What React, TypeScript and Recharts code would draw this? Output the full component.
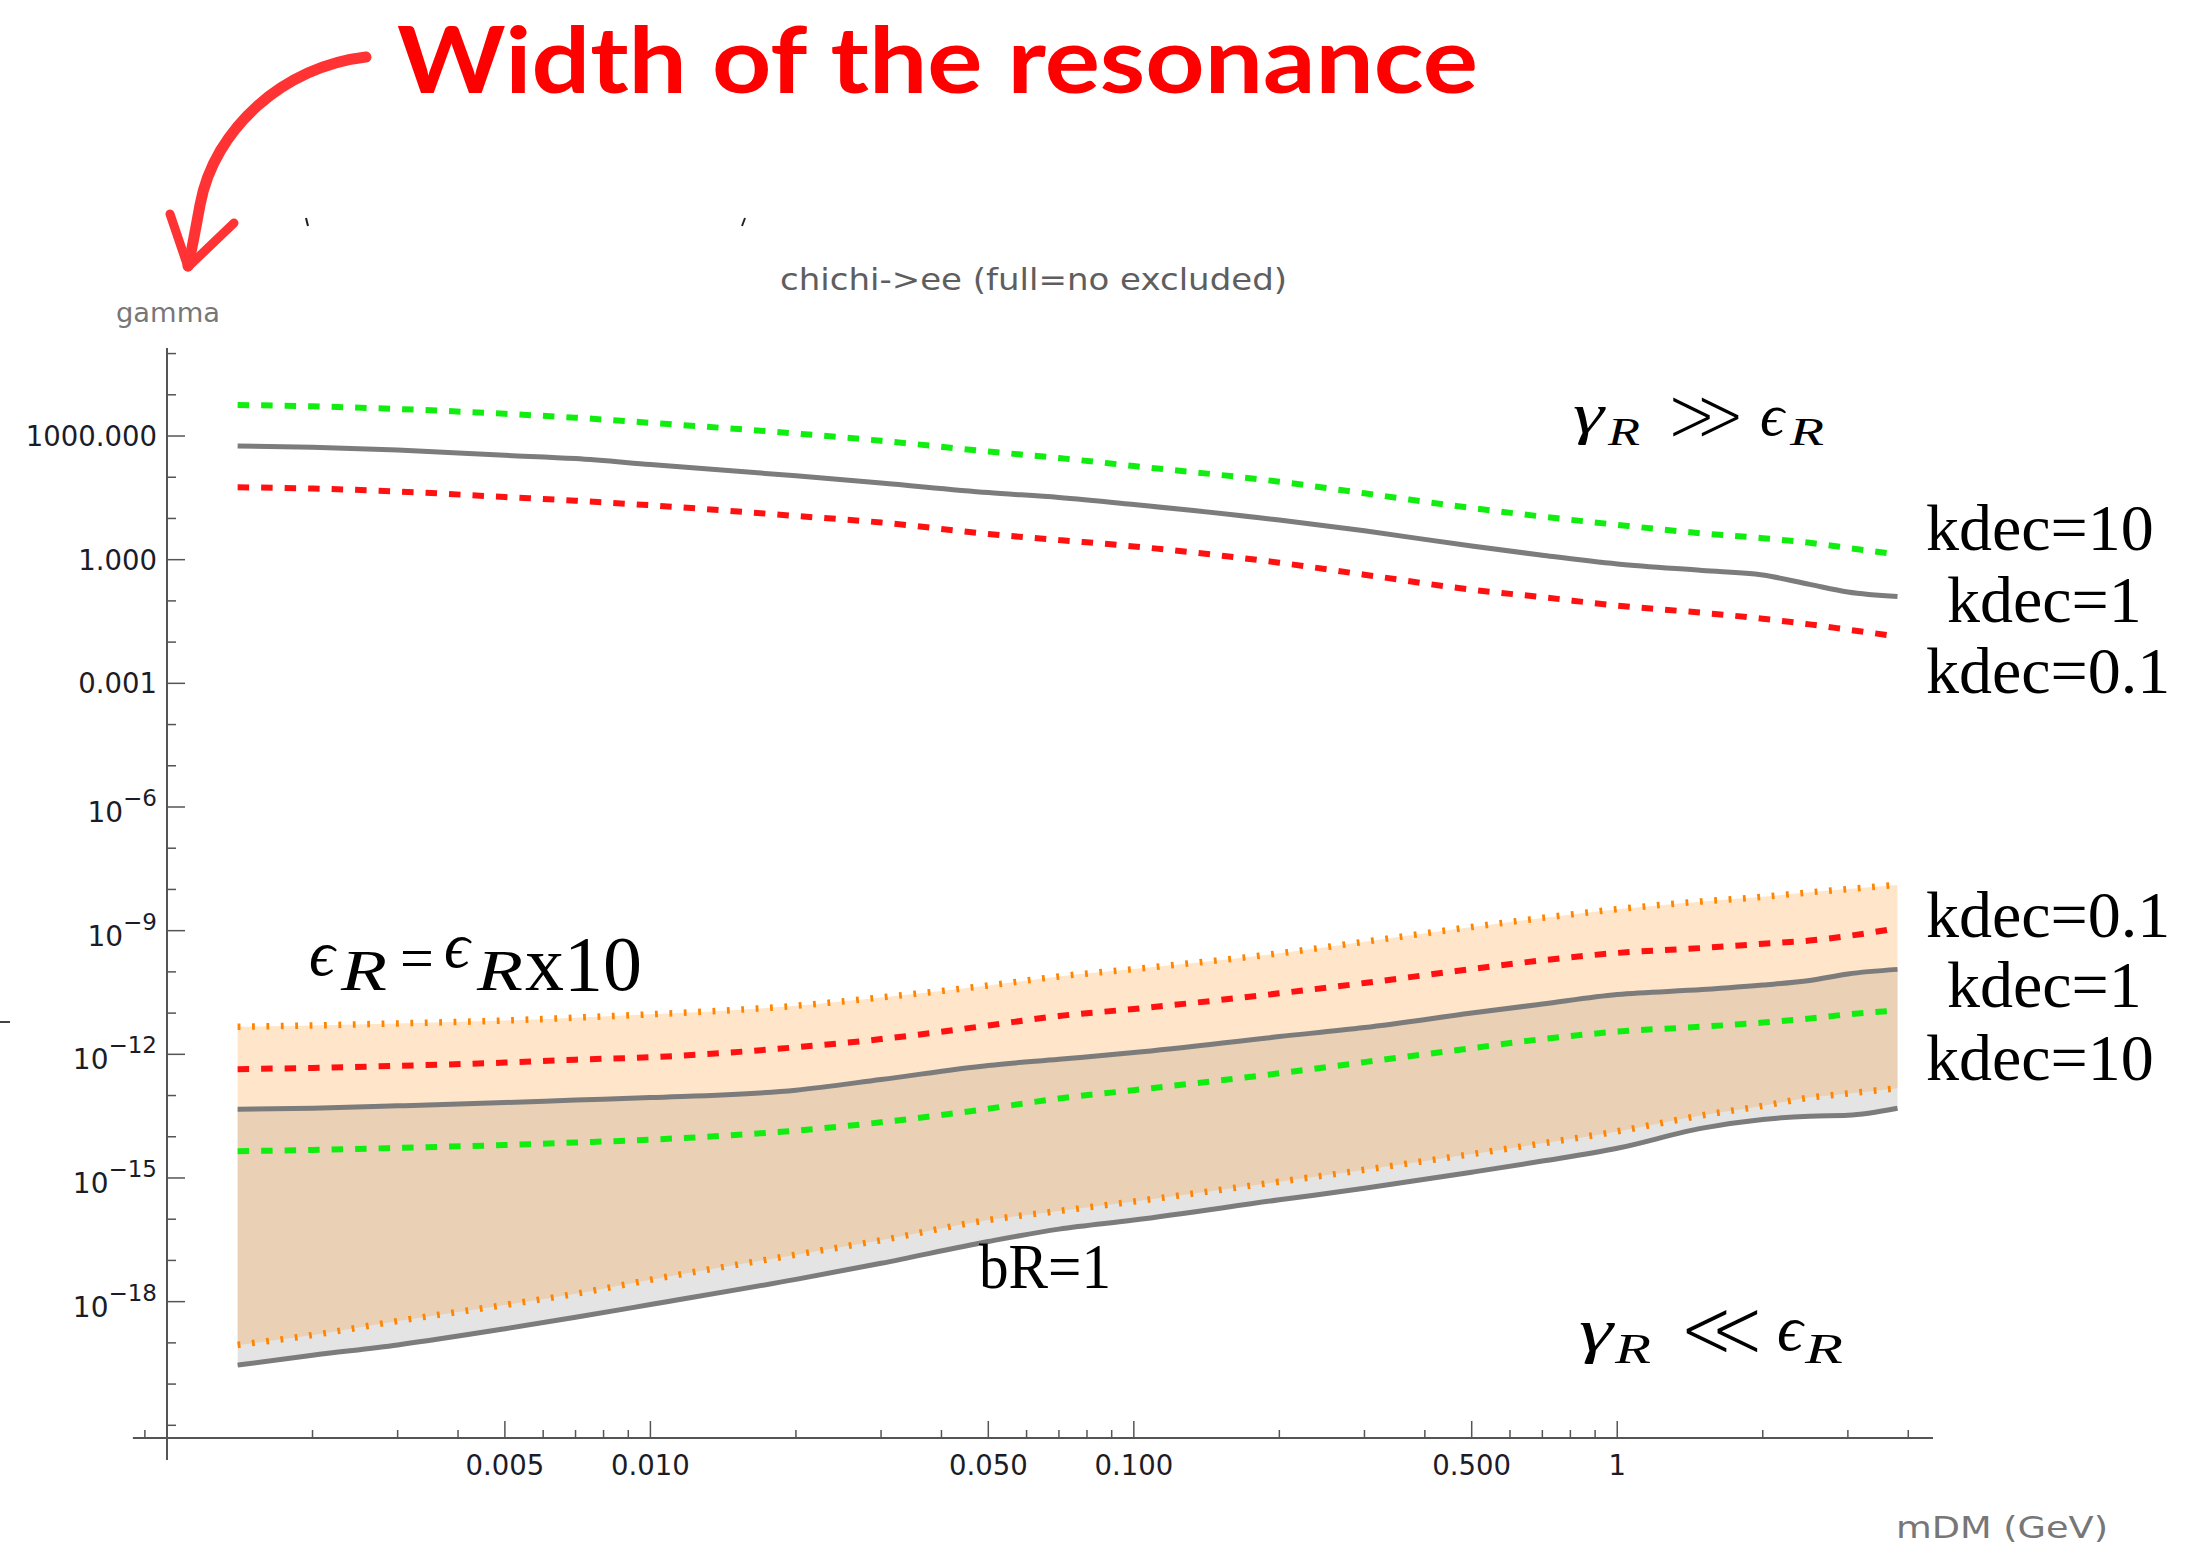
import React from 'react';
import { ComposedChart, Line, Area, XAxis, YAxis, ReferenceLine } from 'recharts';

// ---------- data ----------
const mDM = [0.0014, 0.002, 0.003, 0.005, 0.007, 0.01, 0.02, 0.03, 0.05, 0.07, 0.1, 0.2, 0.3, 0.5, 0.7, 1, 1.5, 2, 2.5, 3, 3.8];

// gamma_R >> eps_R group
const upperKdec10 = [5650, 5250, 4520, 3460, 2780, 2090, 1150, 766, 421, 292, 187, 77.8, 40.7, 17.9, 11.1, 7.01, 4.34, 3.33, 2.56, 1.93, 1.33];
const upperKdec1 = [571, 535, 457, 340, 283, 204, 108, 72.4, 42.4, 32.2, 21.7, 9.16, 5.01, 2.14, 1.28, 0.785, 0.546, 0.425, 0.251, 0.164, 0.127];
const upperKdec01 = [56.9, 53.2, 45.1, 33.1, 26.9, 20.9, 11.5, 7.98, 4.19, 3.0, 2.1, 0.843, 0.432, 0.187, 0.123, 0.0767, 0.0514, 0.037, 0.0269, 0.0201, 0.0137];

// gamma_R << eps_R group
const bandTop = [4.68e-12, 5.01e-12, 5.62e-12, 6.61e-12, 7.76e-12, 9.33e-12, 1.51e-11, 2.4e-11, 4.68e-11, 7.76e-11, 1.17e-10, 2.82e-10, 5.37e-10, 1.23e-9, 2.04e-9, 3.31e-9, 5.13e-9, 6.61e-9, 8.51e-9, 1.02e-8, 1.29e-8];
const lowerKdec01 = [4.37e-13, 4.68e-13, 5.25e-13, 6.31e-13, 7.41e-13, 8.51e-13, 1.48e-12, 2.34e-12, 5.01e-12, 8.51e-12, 1.26e-11, 3.02e-11, 5.37e-11, 1.17e-10, 1.91e-10, 2.88e-10, 3.8e-10, 4.79e-10, 5.75e-10, 7.41e-10, 1.15e-9];
const lowerKdec1 = [4.68e-14, 4.9e-14, 5.62e-14, 6.76e-14, 7.76e-14, 8.91e-14, 1.35e-13, 2.45e-13, 5.37e-13, 7.59e-13, 1.1e-12, 2.69e-12, 4.47e-12, 1.0e-11, 1.66e-11, 2.82e-11, 3.72e-11, 4.79e-11, 6.17e-11, 8.91e-11, 1.15e-10];
const lowerKdec10 = [4.47e-15, 4.79e-15, 5.37e-15, 6.31e-15, 7.24e-15, 8.51e-15, 1.41e-14, 2.24e-14, 4.79e-14, 8.51e-14, 1.35e-13, 3.47e-13, 6.46e-13, 1.41e-12, 2.34e-12, 3.55e-12, 4.68e-12, 5.89e-12, 7.41e-12, 9.33e-12, 1.15e-11];
const bandBottom = [8.91e-20, 1.55e-19, 3.39e-19, 8.32e-19, 1.55e-18, 3.39e-18, 1.38e-17, 3.09e-17, 9.55e-17, 1.58e-16, 2.69e-16, 8.13e-16, 1.58e-15, 3.8e-15, 6.92e-15, 1.35e-14, 3.31e-14, 5.62e-14, 8.91e-14, 1.12e-13, 1.51e-13];
const bR1 = [2.88e-20, 5.01e-20, 8.91e-20, 2.19e-19, 4.17e-19, 8.51e-19, 3.47e-18, 8.51e-18, 2.88e-17, 5.75e-17, 9.55e-17, 2.95e-16, 5.62e-16, 1.38e-15, 2.57e-15, 5.25e-15, 1.62e-14, 2.63e-14, 3.16e-14, 3.31e-14, 4.9e-14];

// axes
const X_MIN = 0.001;
const X_MAX = 4.5;
const X_STUB = 0.00085;
const X_OUT_TICK = 0.0009;
const Y_MIN = 4.92e-22;
const Y_MAX = 1.365e5;
const Y_BELOW = 1.44e-22;
const Y_OUT_TICK_TOP = 7.7e-22;

const xMajorTicks = [0.005, 0.01, 0.05, 0.1, 0.5, 1];
const xTickLabels = ['0.005', '0.010', '0.050', '0.100', '0.500', '1'];
const xMinorTicks = [0.002, 0.003, 0.004, 0.006, 0.007, 0.008, 0.009, 0.02, 0.03, 0.04, 0.06, 0.07, 0.08, 0.09, 0.2, 0.3, 0.4, 0.6, 0.7, 0.8, 0.9, 2, 3, 4];
const xTicks = [...xMinorTicks, ...xMajorTicks].sort((a, b) => a - b);

const yTicks = [1e5, 1e4, 1e3, 1e2, 1e1, 1, 1e-1, 1e-2, 1e-3, 1e-4, 1e-5, 1e-6, 1e-7, 1e-8, 1e-9, 1e-10, 1e-11, 1e-12, 1e-13, 1e-14, 1e-15, 1e-16, 1e-17, 1e-18, 1e-19, 1e-20, 1e-21];
const yLabelValues = [1e3, 1, 1e-3, 1e-6, 1e-9, 1e-12, 1e-15, 1e-18];
const yLabelBase = ['1000.000', '1.000', '0.001', '10', '10', '10', '10', '10'];
const yLabelSup = ['', '', '', '\u22126', '\u22129', '\u221212', '\u221215', '\u221218'];

const data = mDM.map((m, i) => ({
  m,
  u10: upperKdec10[i],
  u1: upperKdec1[i],
  u01: upperKdec01[i],
  top: bandTop[i],
  l01: lowerKdec01[i],
  l1: lowerKdec1[i],
  l10: lowerKdec10[i],
  bot: bandBottom[i],
  br: bR1[i],
  band: [bandBottom[i], bandTop[i]],
  grayBand: [bR1[i], lowerKdec1[i]],
}));

const AXIS = '#555';
const TICKFONT = "'DejaVu Sans', sans-serif";
const TICKCOLOR = '#1c1c28';
const SERIF = "'Liberation Serif', 'DejaVu Serif', serif";
const MATHSYM = "'DejaVu Sans', sans-serif";

const XTick = (props: any) => {
  const { x, y, payload } = props;
  const idx = xMajorTicks.findIndex((t) => Math.abs(t - payload.value) / t < 1e-6);
  const major = idx >= 0;
  return (
    <g>
      <line x1={x} y1={y} x2={x} y2={y - (major ? 17 : 8)} stroke={AXIS} strokeWidth={1.5} />
      {major && (
        <text x={x} y={y + 37} textAnchor="middle" fontSize={27.5} fontFamily={TICKFONT} fill={TICKCOLOR}>
          {xTickLabels[idx]}
        </text>
      )}
    </g>
  );
};

const YTick = (props: any) => {
  const { x, y, payload } = props;
  const lv = Math.log10(payload.value);
  const idx = yLabelValues.findIndex((v) => Math.abs(Math.log10(v) - lv) < 1e-6);
  const major = idx >= 0;
  return (
    <g>
      <line x1={x} y1={y} x2={x + (major ? 18 : 9)} y2={y} stroke={AXIS} strokeWidth={1.5} />
      {major && yLabelSup[idx] === '' && (
        <text x={x - 10} y={y + 10} textAnchor="end" fontSize={27.5} fontFamily={TICKFONT} fill={TICKCOLOR}>
          {yLabelBase[idx]}
        </text>
      )}
      {major && yLabelSup[idx] !== '' && (
        <text x={x - 10} y={y + 15} textAnchor="end" fontSize={28} fontFamily={TICKFONT} fill={TICKCOLOR}>
          {yLabelBase[idx]}
          <tspan fontSize={23} dy={-16}>{yLabelSup[idx]}</tspan>
        </text>
      )}
    </g>
  );
};

const GREEN = '#10EE10';
const RED = '#FF1111';
const GRAY = '#7c7c7c';
const ORANGE = '#FF8400';
const DASH = '11.5 12';
const DOT = '2.8 11.6';

const W = 2186;
const H = 1547;

const it = { fontStyle: 'italic' as const, fontFamily: SERIF, fill: '#000' };
const thinSym = { fontFamily: MATHSYM, fill: '#000', stroke: '#fff', strokeWidth: 3.5 };

export default function App() {
  return (
    <div style={{ position: 'absolute', left: 0, top: 0, width: W, height: H, background: '#fff' }}>
      <ComposedChart
        width={W}
        height={H}
        data={data}
        margin={{ top: 348, right: 253, bottom: 49, left: 7 }}
      >
        <XAxis
          dataKey="m"
          type="number"
          scale="log"
          domain={[X_MIN, X_MAX]}
          allowDataOverflow
          ticks={xTicks}
          interval={0}
          tick={(p: any) => <XTick {...p} />}
          tickLine={false}
          tickSize={0}
          tickMargin={0}
          axisLine={{ stroke: AXIS, strokeWidth: 2 }}
          height={60}
        />
        <YAxis
          type="number"
          scale="log"
          domain={[Y_MIN, Y_MAX]}
          allowDataOverflow
          ticks={yTicks}
          interval={0}
          tick={(p: any) => <YTick {...p} />}
          tickLine={false}
          tickSize={0}
          tickMargin={0}
          axisLine={{ stroke: AXIS, strokeWidth: 2 }}
          width={160}
        />
        <ReferenceLine segment={[{ x: X_STUB, y: Y_MIN }, { x: X_MIN, y: Y_MIN }]} ifOverflow="visible" stroke={AXIS} strokeWidth={2} />
        <ReferenceLine segment={[{ x: X_MIN, y: Y_MIN }, { x: X_MIN, y: Y_BELOW }]} ifOverflow="visible" stroke={AXIS} strokeWidth={2} />
        <ReferenceLine segment={[{ x: X_OUT_TICK, y: Y_MIN }, { x: X_OUT_TICK, y: Y_OUT_TICK_TOP }]} ifOverflow="visible" stroke={AXIS} strokeWidth={1.5} />

        <Area type="monotone" dataKey="grayBand" stroke="none" fill="#E4E4E4" fillOpacity={1} isAnimationActive={false} />
        <Area type="monotone" dataKey="band" stroke="none" fill="rgb(255,138,7)" fillOpacity={0.22} isAnimationActive={false} />

        <Line type="monotone" dataKey="top" stroke={ORANGE} strokeWidth={6.5} strokeDasharray={DOT} dot={false} activeDot={false} isAnimationActive={false} />
        <Line type="monotone" dataKey="bot" stroke={ORANGE} strokeWidth={6.5} strokeDasharray={DOT} dot={false} activeDot={false} isAnimationActive={false} />
        <Line type="monotone" dataKey="br" stroke={GRAY} strokeWidth={5} dot={false} activeDot={false} isAnimationActive={false} />
        <Line type="monotone" dataKey="l1" stroke={GRAY} strokeWidth={5} dot={false} activeDot={false} isAnimationActive={false} />
        <Line type="monotone" dataKey="l01" stroke={RED} strokeWidth={6} strokeDasharray={DASH} dot={false} activeDot={false} isAnimationActive={false} />
        <Line type="monotone" dataKey="l10" stroke={GREEN} strokeWidth={6} strokeDasharray={DASH} dot={false} activeDot={false} isAnimationActive={false} />

        <Line type="monotone" dataKey="u1" stroke={GRAY} strokeWidth={5} dot={false} activeDot={false} isAnimationActive={false} />
        <Line type="monotone" dataKey="u10" stroke={GREEN} strokeWidth={6} strokeDasharray={DASH} dot={false} activeDot={false} isAnimationActive={false} />
        <Line type="monotone" dataKey="u01" stroke={RED} strokeWidth={6} strokeDasharray={DASH} dot={false} activeDot={false} isAnimationActive={false} />
      </ComposedChart>

      <svg
        width={W}
        height={H}
        style={{ position: 'absolute', left: 0, top: 0, pointerEvents: 'none' }}
      >
        {/* hand-written annotation */}
        <text x={397} y={93} fontSize={92} fontWeight={700} fontFamily="'Lato', sans-serif" fill="#FF0000" textLength={1081} lengthAdjust="spacingAndGlyphs">
          Width of the resonance
        </text>
        <path d="M 366 57 C 285 66 214 128 200 205 S 189 256 188 266" fill="none" stroke="#FF3333" strokeWidth={11} strokeLinecap="round" />
        <path d="M 170 214 L 188 267 L 234 223" fill="none" stroke="#FF3333" strokeWidth={9} strokeLinecap="round" strokeLinejoin="round" />
        <line x1={306} y1={218} x2={308} y2={226} stroke="#222" strokeWidth={2} />
        <line x1={745} y1={218} x2={742} y2={226} stroke="#222" strokeWidth={2} />
        <line x1={0} y1={1022} x2={10} y2={1022} stroke="#444" strokeWidth={2} />

        {/* plot title and axis labels */}
        <text x={780} y={290} fontSize={31} fontFamily={TICKFONT} fill="#5e5e5e" textLength={507} lengthAdjust="spacingAndGlyphs">
          chichi-&gt;ee (full=no excluded)
        </text>
        <text x={116} y={322} fontSize={27} fontFamily={TICKFONT} fill="#777" textLength={104} lengthAdjust="spacingAndGlyphs">
          gamma
        </text>
        <text x={1896} y={1538} fontSize={31} fontFamily={TICKFONT} fill="#777" textLength={212} lengthAdjust="spacingAndGlyphs">
          mDM (GeV)
        </text>

        {/* gamma_R >> eps_R */}
        <text x={1573} y={433} fontSize={58} textLength={31} lengthAdjust="spacingAndGlyphs" {...it}>γ</text>
        <text x={1608} y={445} fontSize={40} textLength={32} lengthAdjust="spacingAndGlyphs" {...it}>R</text>
        <text x={1666} y={441} fontSize={76} {...thinSym}>≫</text>
        <text x={1760} y={435} fontSize={60} {...it}>ϵ</text>
        <text x={1790} y={445} fontSize={40} textLength={34} lengthAdjust="spacingAndGlyphs" {...it}>R</text>

        {/* gamma_R << eps_R */}
        <text x={1579} y={1351} fontSize={62} textLength={34} lengthAdjust="spacingAndGlyphs" {...it}>γ</text>
        <text x={1615} y={1363} fontSize={43} textLength={36} lengthAdjust="spacingAndGlyphs" {...it}>R</text>
        <text x={1679} y={1357} fontSize={82} {...thinSym}>≪</text>
        <text x={1777} y={1350} fontSize={64} {...it}>ϵ</text>
        <text x={1805} y={1363} fontSize={43} textLength={38} lengthAdjust="spacingAndGlyphs" {...it}>R</text>

        {/* eps_R = eps_R x10 */}
        <text x={309} y={975} fontSize={64} {...it}>ϵ</text>
        <text x={341} y={990} fontSize={58} textLength={46} lengthAdjust="spacingAndGlyphs" {...it}>R</text>
        <text x={400} y={978} fontSize={60} fontFamily={SERIF} fill="#000">=</text>
        <text x={444} y={967} fontSize={64} {...it}>ϵ</text>
        <text x={477} y={990} fontSize={58} textLength={46} lengthAdjust="spacingAndGlyphs" {...it}>R</text>
        <text x={525} y={990} fontSize={78} fontFamily={SERIF} fill="#000">x10</text>

        <text x={979} y={1288} fontSize={64} fontFamily={SERIF} fill="#000" textLength={132} lengthAdjust="spacingAndGlyphs">bR=1</text>

        {/* kdec labels */}
        <text x={1926} y={550} fontSize={66} fontFamily={SERIF} fill="#000">kdec=10</text>
        <text x={1947} y={622} fontSize={66} fontFamily={SERIF} fill="#000">kdec=1</text>
        <text x={1926} y={693} fontSize={66} fontFamily={SERIF} fill="#000">kdec=0.1</text>
        <text x={1926} y={937} fontSize={66} fontFamily={SERIF} fill="#000">kdec=0.1</text>
        <text x={1947} y={1007} fontSize={66} fontFamily={SERIF} fill="#000">kdec=1</text>
        <text x={1926} y={1080} fontSize={66} fontFamily={SERIF} fill="#000">kdec=10</text>
      </svg>
    </div>
  );
}
